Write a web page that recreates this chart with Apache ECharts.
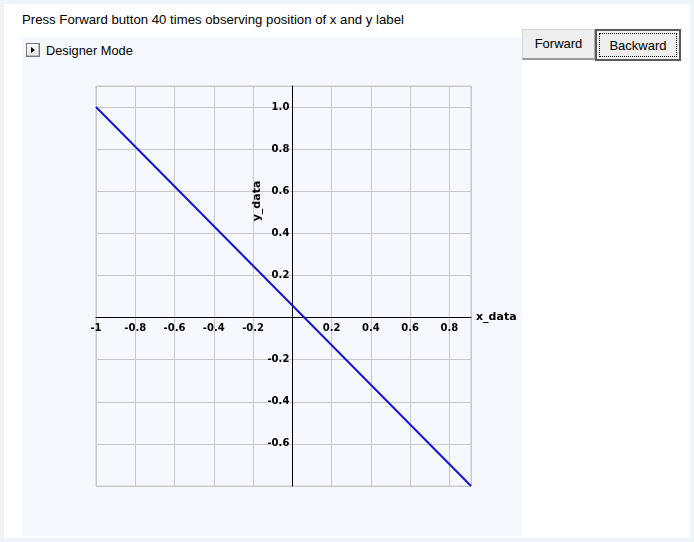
<!DOCTYPE html>
<html><head><meta charset="utf-8">
<script src="https://cdn.jsdelivr.net/npm/echarts@6/dist/echarts.min.js"></script>
<style>
html,body{margin:0;padding:0;width:694px;height:542px;overflow:hidden;background:#fff;}
#frame{position:absolute;left:0;top:0;width:686px;height:534px;border:4px solid #eef4fa;background:#fff;}
#caption{position:absolute;left:22px;top:12px;font:13.2px "Liberation Sans",Arial,sans-serif;color:#000;white-space:nowrap;}
#panel{position:absolute;left:22px;top:37px;width:500px;height:499px;background:#f5f9fd;}
#dicon{position:absolute;left:26px;top:43px;width:12px;height:12px;border:1px solid #777;background:linear-gradient(#fdfdfd,#e4e4e4);box-shadow:inset -1px -1px 0 #bbb;}
#dicon:after{content:"";position:absolute;left:4px;top:3px;border-left:4px solid #000;border-top:3px solid transparent;border-bottom:3px solid transparent;}
#dtext{position:absolute;left:46px;top:43px;font:12.8px "Liberation Sans",Arial,sans-serif;color:#000;white-space:nowrap;}
#chart{position:absolute;left:22px;top:37px;width:500px;height:499px;}
.btn{position:absolute;top:29px;height:29px;box-sizing:border-box;background:#eeeeee;font:13px "Liberation Sans",Arial,sans-serif;color:#000;text-align:center;line-height:27px;}
#fwd{left:522px;width:73px;height:31px;border:1px solid #d4d4d4;border-bottom:2px solid #9a9a9a;border-right:1px solid #b0b0b0;}
#bwd{left:595px;width:86px;height:32px;border:2px solid #5a5a5a;}
#bwd span{position:absolute;left:2px;top:2px;right:2px;bottom:2px;border:1px dotted #000;line-height:23px;}
</style></head>
<body>
<div id="frame"></div>
<div id="caption">Press Forward button 40 times observing position of x and y label</div>
<div id="panel"></div>
<div id="dicon"></div>
<div id="dtext">Designer Mode</div>
<div id="chart"></div>
<div class="btn" id="fwd">Forward</div>
<div class="btn" id="bwd"><span>Backward</span></div>
<script>
// Data
const xValues = [-1.0, 0.91];
const yValues = [1.0, -0.8];
const xTickLabels = ['-1', '-0.8', '-0.6', '-0.4', '-0.2', '', '0.2', '0.4', '0.6', '0.8'];
const yTickLabels = ['', '-0.6', '-0.4', '-0.2', '', '0.2', '0.4', '0.6', '0.8', '1.0'];
const xAxisName = 'x_data';
const yAxisName = 'y_data';

const xMin = -1, xMax = 0.91, yMin = -0.8, yMax = 1.1;
const gridW = 375, gridH = 400;
const lineData = xValues.map((x, i) => [x, yValues[i]]);
const labelFont = {fontFamily: 'DejaVu Sans, Verdana, sans-serif', fontWeight: 'bold', fontSize: 10, color: '#000'};

const chart = echarts.init(document.getElementById('chart'), null, {renderer: 'canvas'});
chart.setOption({
  animation: false,
  grid: {left: 74, top: 49, width: gridW, height: gridH, show: true, borderColor: '#c8c8c8', borderWidth: 1, backgroundColor: 'transparent'},
  xAxis: {
    type: 'value', min: xMin, max: xMax, interval: 0.2, position: 'bottom',
    // move the axis up to y = 0 (labels follow the line)
    offset: -gridH * (0 - yMin) / (yMax - yMin),
    axisLine: {onZero: false, lineStyle: {color: '#000', width: 1}},
    axisTick: {show: false},
    splitLine: {show: true, lineStyle: {color: '#c8c8c8', width: 1}},
    axisLabel: Object.assign({margin: 6, showMaxLabel: false, showMinLabel: true,
      formatter: v => { const i = Math.round((v - xMin) / 0.2); return (Math.abs(v - (xMin + i * 0.2)) < 1e-6 && xTickLabels[i] !== undefined) ? xTickLabels[i] : ''; }}, labelFont),
    name: xAxisName, nameLocation: 'end', nameGap: 5, nameMoveOverlap: false,
    nameTextStyle: {fontFamily: 'DejaVu Sans, Verdana, sans-serif', fontWeight: 'bold', fontSize: 11, color: '#000'}
  },
  yAxis: {
    type: 'value', min: yMin, max: yMax, interval: 0.2, position: 'left',
    offset: -gridW * (0 - xMin) / (xMax - xMin),
    axisLine: {onZero: false, lineStyle: {color: '#000', width: 1}},
    axisTick: {show: false},
    splitLine: {show: true, lineStyle: {color: '#c8c8c8', width: 1}},
    axisLabel: Object.assign({margin: 3, showMaxLabel: false,
      formatter: v => { const i = Math.round((v - yMin) / 0.2); return (Math.abs(v - (yMin + i * 0.2)) < 1e-6 && yTickLabels[i] !== undefined) ? yTickLabels[i] : ''; }}, labelFont),
    name: yAxisName, nameLocation: 'middle', nameGap: 30, nameMoveOverlap: false,
    nameTextStyle: {fontFamily: 'DejaVu Sans, Verdana, sans-serif', fontWeight: 'bold', fontSize: 11, color: '#000', padding: [0, 0, 0, 170]}
  },
  series: [{
    type: 'line', data: lineData, showSymbol: false, symbol: 'none',
    lineStyle: {color: '#1414d8', width: 2}, z: 5
  }]
});
</script>
</body></html>
